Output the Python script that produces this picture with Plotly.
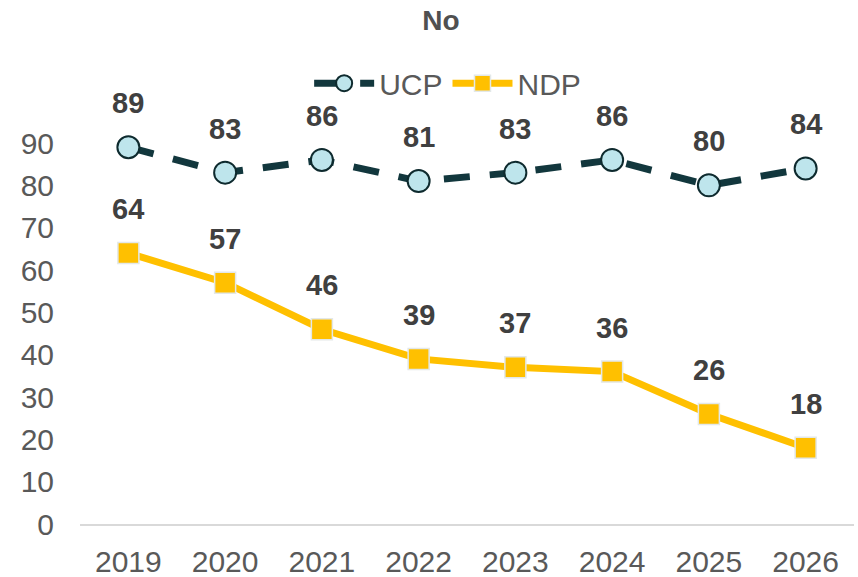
import plotly.graph_objects as go

years = [2019, 2020, 2021, 2022, 2023, 2024, 2025, 2026]
ucp = [89, 83, 86, 81, 83, 86, 80, 84]
ndp = [64, 57, 46, 39, 37, 36, 26, 18]
y_ticks = [0, 10, 20, 30, 40, 50, 60, 70, 80, 90]

FONT = "Liberation Sans, Arial"

fig = go.Figure()
fig.add_trace(go.Scatter(
    x=years, y=ucp, name="UCP", mode="lines+markers",
    line=dict(color="#12373D", width=7, dash="26px,20px"),
    marker=dict(symbol="circle", size=22, color="#BEE5EC", line=dict(color="#0E2A2E", width=2)),
    cliponaxis=False,
))
fig.add_trace(go.Scatter(
    x=years, y=ndp, name="NDP", mode="lines+markers",
    line=dict(color="#FFC000", width=7),
    marker=dict(symbol="square", size=21, color="#FFC000", line=dict(color="#E3E8E8", width=1.5)),
    cliponaxis=False,
))

for series in (ucp, ndp):
    for x, v in zip(years, series):
        fig.add_annotation(x=x, y=v, text=f"<b>{v}</b>", showarrow=False, yshift=44,
                           font=dict(family=FONT, size=29, color="#404040"))

fig.update_layout(
    width=858, height=577,
    margin=dict(l=80, r=4, t=143, b=53),
    paper_bgcolor="white", plot_bgcolor="white",
    title=dict(text="<b>No</b>", x=0.514, xanchor="center", y=0.965, yanchor="middle",
               font=dict(family=FONT, size=28, color="#505050")),
    legend=dict(orientation="h", x=0.475, xanchor="center", y=1.157, yanchor="middle",
                font=dict(family=FONT, size=30, color="#595959"),
                itemwidth=60, traceorder="normal"),
    font=dict(family=FONT),
    showlegend=True,
)
fig.update_xaxes(range=[2018.5, 2026.5], tickvals=years, showgrid=False, showline=True,
                 linecolor="#D9D9D9", linewidth=2, zeroline=False, automargin=False,
                 ticks="", tickfont=dict(size=30, color="#595959"), ticklabelstandoff=10)
fig.update_yaxes(range=[0, 90], tickvals=y_ticks, showgrid=False, zeroline=False, showline=False,
                 automargin=False,
                 ticks="", tickfont=dict(size=30, color="#595959"), ticklabelstandoff=25)

fig.write_html("out.html", config={"displayModeBar": False},
               post_script="document.body.style.margin='0';document.body.style.overflow='hidden';")
